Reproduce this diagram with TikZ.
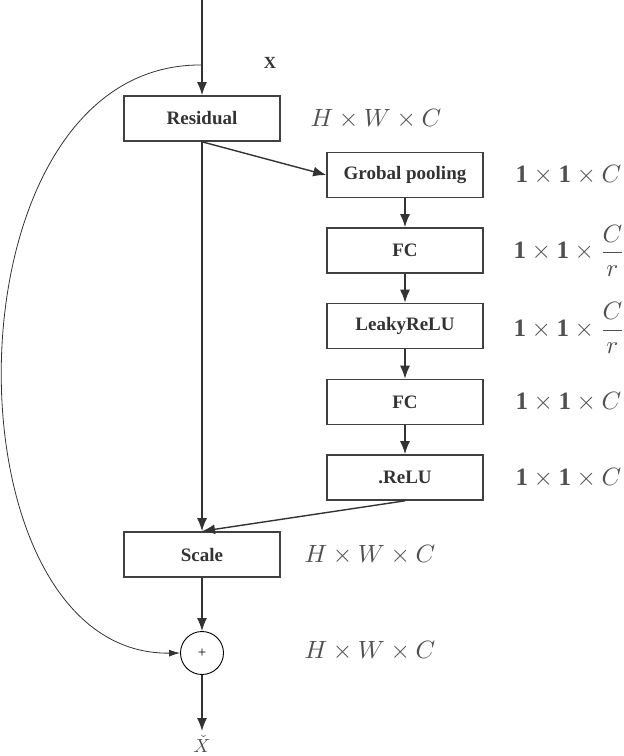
\documentclass[tikz,border=0pt]{standalone}
\usepackage{fontspec}
\setmainfont{Liberation Serif}
\usetikzlibrary{arrows.meta}
\definecolor{linec}{HTML}{333333}
\definecolor{boxc}{HTML}{404040}
\definecolor{txtc}{HTML}{333333}
\definecolor{dimc}{HTML}{505050}
\begin{document}
\begin{tikzpicture}[x=1pt,y=-1pt,
  box/.style={draw=boxc, line width=1.6pt, minimum width=156pt, minimum height=45pt, inner sep=0pt,
    font=\fontsize{19}{21}\selectfont\bfseries, text=txtc},
  arr/.style={draw=linec, line width=1.4pt, -{Latex[length=13pt,width=10pt]}},
  dimlbl/.style={anchor=west, inner sep=0pt, font=\fontsize{10}{12}\selectfont, scale=2.5, text=dimc}]
\useasboundingbox (0,0) rectangle (624,756);

% main boxes
\node[box] (res) at (202,118.5) {Residual};
\node[box] (gp)  at (405,175)   {Grobal pooling};
\node[box] (fc1) at (405,250.5) {FC};
\node[box] (lr)  at (405,326)   {LeakyReLU};
\node[box] (fc2) at (405,402)   {FC};
\node[box] (relu) at (405,477.5) {.ReLU};
\node[box] (sc)  at (202,554.5) {Scale};
\node[draw=black, line width=0.9pt, circle, minimum size=43pt, inner sep=0pt,
  font=\fontsize{15}{16}\selectfont] (plus) at (202,653) {+};

\coordinate (top) at (202,0);
\coordinate (j) at (202,65);
\coordinate (xend) at (202,731);
\node[inner sep=0pt, text=dimc, font=\fontsize{10}{12}\selectfont, scale=1.9] (xout) at (202,744) {$\check{X}$};
\node[inner sep=0pt, text=txtc, font=\fontsize{17}{20}\selectfont\bfseries] (xin) at (270,63) {X};

% dimension labels
\node[dimlbl] (d1) at (310,118.5) {$H\times W\times C$};
\node[dimlbl] (d2) at (515,175)   {$\mathbf{1}\times\mathbf{1}\times C$};
\node[dimlbl] (d3) at (513,250.5) {$\mathbf{1}\times\mathbf{1}\times {\displaystyle\frac{C}{r}}$};
\node[dimlbl] (d4) at (513,328)   {$\mathbf{1}\times\mathbf{1}\times {\displaystyle\frac{C}{r}}$};
\node[dimlbl] (d5) at (515,402)   {$\mathbf{1}\times\mathbf{1}\times C$};
\node[dimlbl] (d6) at (515,477.5) {$\mathbf{1}\times\mathbf{1}\times C$};
\node[dimlbl] (d7) at (304,554.5) {$H\times W\times C$};
\node[dimlbl] (d8) at (304,651)   {$H\times W\times C$};

% connectors
\draw[arr] (top) -- (res.north);
\draw[arr] (res.south) -- (sc.north);
\draw[arr] (res.south) -- (gp.west);
\draw[arr] (gp) -- (fc1);
\draw[arr] (fc1) -- (lr);
\draw[arr] (lr) -- (fc2);
\draw[arr] (fc2) -- (relu);
\draw[arr] (relu.south) -- (sc.north);
\draw[arr] (sc) -- (plus);
\draw[arr] (plus) -- (xend);
\draw[draw=linec, line width=0.8pt, -{Latex[length=11pt,width=7pt]}]
  (j) .. controls (-60,62) and (-60,656) .. (plus.west);
\end{tikzpicture}
\end{document}
